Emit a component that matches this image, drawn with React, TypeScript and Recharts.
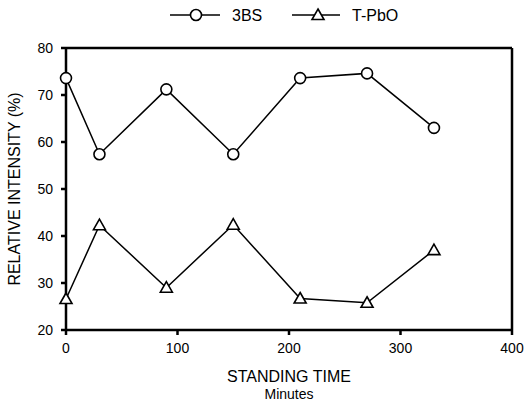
import { LineChart, Line, XAxis, YAxis, ReferenceLine, Label } from "recharts";

// standing time (minutes)
const minutes = [0, 30, 90, 150, 210, 270, 330];
const bs3 = [73.6, 57.4, 71.2, 57.4, 73.6, 74.6, 63.0];
const tpbo = [26.6, 42.3, 29.0, 42.4, 26.7, 25.8, 37.0];
const xTicks = [0, 100, 200, 300, 400];
const yTicks = [20, 30, 40, 50, 60, 70, 80];

const data = minutes.map((m, i) => ({ t: m, bs: bs3[i], pbo: tpbo[i] }));

const FONT = "'Liberation Sans', Arial, Helvetica, sans-serif";

const CircleDot = (props: any) => {
  const { cx, cy } = props;
  if (cx == null || cy == null) return null;
  return <circle cx={cx} cy={cy} r={5.5} fill="#fff" stroke="#000" strokeWidth={1.6} />;
};

const TriangleDot = (props: any) => {
  const { cx, cy } = props;
  if (cx == null || cy == null) return null;
  const s = 6;
  return (
    <path
      d={`M${cx},${cy - s} L${cx + s},${cy + s * 0.75} L${cx - s},${cy + s * 0.75} Z`}
      fill="#fff"
      stroke="#000"
      strokeWidth={1.6}
    />
  );
};

const LegendBox = () => (
  <svg width={527} height={30} style={{ position: "absolute", left: 0, top: 0 }}>
    <g fontFamily={FONT} fontSize={16} fill="#000">
      <line x1={170} x2={220} y1={15} y2={15} stroke="#000" strokeWidth={1.5} />
      <circle cx={196} cy={15} r={5.5} fill="#fff" stroke="#000" strokeWidth={1.6} />
      <text x={232} y={21}>3BS</text>
      <line x1={292} x2={340} y1={15} y2={15} stroke="#000" strokeWidth={1.5} />
      <path d="M318,9 L324,19.5 L312,19.5 Z" fill="#fff" stroke="#000" strokeWidth={1.6} />
      <text x={352} y={21}>T-PbO</text>
    </g>
  </svg>
);

export default function App() {
  return (
    <div style={{ position: "absolute", left: 0, top: 0, width: 527, height: 407, background: "#fff" }}>
      <LineChart width={527} height={407} data={data} margin={{ top: 48, right: 15, bottom: 45, left: 26 }}>
        <XAxis
          type="number"
          dataKey="t"
          domain={[0, 400]}
          ticks={xTicks}
          stroke="#000"
          strokeWidth={2.5}
          tickSize={5}
          tickMargin={8}
          tick={{ fill: "#000", fontSize: 14, fontFamily: FONT }}
          height={32}
        >
          <Label
            content={(p: any) => {
              const vb = p.viewBox;
              const cx = vb.x + vb.width / 2;
              return (
                <g fontFamily={FONT} fill="#000" textAnchor="middle">
                  <text x={cx} y={382} fontSize={16}>STANDING TIME</text>
                  <text x={cx} y={399} fontSize={14}>Minutes</text>
                </g>
              );
            }}
          />
        </XAxis>
        <YAxis
          domain={[20, 80]}
          ticks={yTicks}
          width={40}
          stroke="#000"
          strokeWidth={2.5}
          tickSize={5}
          tickMargin={8}
          tick={{ fill: "#000", fontSize: 14, fontFamily: FONT }}
        >
          <Label
            content={(p: any) => {
              const vb = p.viewBox;
              const cy = vb.y + vb.height / 2;
              return (
                <text
                  x={0}
                  y={0}
                  transform={`translate(20, ${cy}) rotate(-90)`}
                  textAnchor="middle"
                  fontFamily={FONT}
                  fontSize={16}
                  fill="#000"
                >
                  RELATIVE INTENSITY (%)
                </text>
              );
            }}
          />
        </YAxis>
        <ReferenceLine y={80} stroke="#000" strokeWidth={2.5} />
        <ReferenceLine x={400} stroke="#000" strokeWidth={2.5} />
        <Line
          dataKey="bs"
          stroke="#000"
          strokeWidth={1.5}
          dot={<CircleDot />}
          isAnimationActive={false}
        />
        <Line
          dataKey="pbo"
          stroke="#000"
          strokeWidth={1.5}
          dot={<TriangleDot />}
          isAnimationActive={false}
        />
      </LineChart>
      <LegendBox />
    </div>
  );
}
